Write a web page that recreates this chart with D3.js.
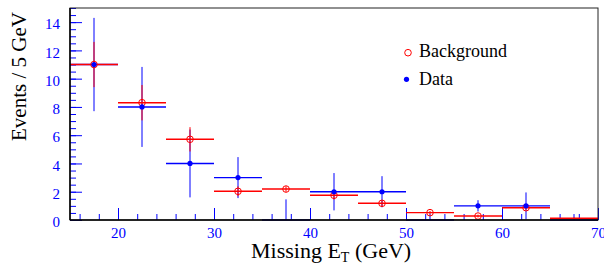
<!DOCTYPE html>
<html>
<head>
<meta charset="utf-8">
<script src="https://cdn.jsdelivr.net/npm/d3@7"></script>
<style>
    body { margin: 0; background: #fff; }
    svg { display: block; font-family: "Liberation Serif", "Times New Roman", serif; }
</style>
</head>
<body>
<svg id="chart"></svg>
<script>
// bins of 5 GeV, centres
var binCenters = [17.5, 22.5, 27.5, 32.5, 37.5, 42.5, 47.5, 52.5, 57.5, 62.5, 67.5];
var binWidth = 5;

// observed data and its errors
var dataCounts = [11, 8, 4, 3, 0, 2, 2, 0, 1, 1, 0];
var dataErrors = [3.3, 2.83, 2.4, 1.45, 1.46, 1.32, 1.1, 0.45, 0.4, 0.95, 0.42];

// expected background and its errors
var bkgValues = [11, 8.3, 5.71, 2.03, 2.19, 1.75, 1.18, 0.52, 0.28, 0.87, 0.12];
var bkgErrors = [1.6, 1.25, 0.86, 0.35, 0.2, 0.3, 0.2, 0.12, 0.1, 0.15, 0.05];

var xMajorTicks = [20, 30, 40, 50, 60, 70];
var yMajorTicks = [0, 2, 4, 6, 8, 10, 12, 14];

var margin = { top: 8, right: 6, bottom: 44, left: 70 },
    width = 604 - margin.left - margin.right,
    height = 264 - margin.top - margin.bottom;

var x = d3.scaleLinear().domain([15, 70]).range([0, width]);
var y = d3.scaleLinear().domain([0, 15]).range([height, 0]);

var svg = d3.select("#chart")
    .attr("width", width + margin.left + margin.right)
    .attr("height", height + margin.top + margin.bottom)
    .append("g")
    .attr("transform", "translate(" + margin.left + "," + margin.top + ")");

var bins = binCenters.map(function (c, i) {
    return { c: c, d: dataCounts[i], de: dataErrors[i], b: bkgValues[i], be: bkgErrors[i] };
});

// axes (ticks point inward, ROOT style)
function styleAxis(g) {
    g.select(".domain").remove();
    g.selectAll(".tick line").attr("stroke", "#0000ff");
    g.selectAll(".tick text")
        .attr("fill", "#0000ff")
        .style("font-size", "15px")
        .style("font-family", "'Liberation Serif', serif");
}

svg.append("g")
    .attr("class", "x minor")
    .attr("transform", "translate(0," + height + ")")
    .call(d3.axisBottom(x).tickValues(x.ticks(28)).tickSize(-6).tickFormat(""))
    .call(styleAxis);

svg.append("g")
    .attr("class", "x axis")
    .attr("transform", "translate(0," + height + ")")
    .call(d3.axisBottom(x).tickValues(xMajorTicks).tickSize(-12).tickPadding(7.5))
    .call(styleAxis);

svg.append("g")
    .attr("class", "y minor")
    .call(d3.axisLeft(y).tickValues(y.ticks(30)).tickSize(-6).tickFormat(""))
    .call(styleAxis);

svg.append("g")
    .attr("class", "y axis")
    .call(d3.axisLeft(y).tickValues(yMajorTicks).tickSize(-12).tickPadding(10))
    .call(styleAxis)
    .selectAll(".tick text").attr("dy", "0.45em");

// error bars
function drawBars(cls, val, err, color) {
    var g = svg.append("g").attr("class", cls).attr("stroke", color);
    g.selectAll(".h").data(bins).enter().append("line")
        .attr("class", "h")
        .attr("stroke-width", 1.4)
        .attr("x1", function (d) { return x(d.c - binWidth / 2); })
        .attr("x2", function (d) { return x(d.c + binWidth / 2); })
        .attr("y1", function (d) { return y(d[val]); })
        .attr("y2", function (d) { return y(d[val]); });
    g.selectAll(".v").data(bins).enter().append("line")
        .attr("class", "v")
        .attr("stroke-width", 1)
        .attr("x1", function (d) { return x(d.c); })
        .attr("x2", function (d) { return x(d.c); })
        .attr("y1", function (d) { return y(Math.max(0, d[val] - d[err])); })
        .attr("y2", function (d) { return y(d[val] + d[err]); });
}

drawBars("data-bars", "d", "de", "#0000ff");
drawBars("bkg-bars", "b", "be", "#ff0000");

svg.append("g").selectAll("circle")
    .data(bins.filter(function (d) { return d.b > 0.2; }))
    .enter().append("circle")
    .attr("cx", function (d) { return x(d.c); })
    .attr("cy", function (d) { return y(d.b); })
    .attr("r", 3.3)
    .attr("fill", "none")
    .attr("stroke", "#ff0000")
    .attr("stroke-width", 1);

svg.append("g").selectAll("circle")
    .data(bins.filter(function (d) { return d.d > 0; }))
    .enter().append("circle")
    .attr("cx", function (d) { return x(d.c); })
    .attr("cy", function (d) { return y(d.d); })
    .attr("r", 2.6)
    .attr("fill", "#0000ff");

// frame
svg.append("rect")
    .attr("width", width)
    .attr("height", height)
    .attr("fill", "none")
    .attr("stroke", "#222")
    .attr("stroke-width", 1);
svg.append("line").attr("x1", 0).attr("x2", 0).attr("y1", 0).attr("y2", height)
    .attr("stroke", "#000").attr("stroke-width", 1.5);
svg.append("line").attr("x1", 0).attr("x2", width).attr("y1", height).attr("y2", height)
    .attr("stroke", "#000").attr("stroke-width", 1.5);

// legend
var legend = svg.append("g").attr("class", "legend");
legend.append("circle").attr("cx", 338).attr("cy", 44.7).attr("r", 3.3)
    .attr("fill", "none").attr("stroke", "#ff0000");
legend.append("text").attr("x", 349).attr("y", 48.7)
    .style("font-size", "18px").text("Background");
legend.append("circle").attr("cx", 336.5).attr("cy", 71.3).attr("r", 2.6)
    .attr("fill", "#0000ff");
legend.append("text").attr("x", 349).attr("y", 77)
    .style("font-size", "18px").text("Data");

// axis titles
svg.append("text")
    .attr("transform", "translate(" + (26 - margin.left) + "," + (76.5 - margin.top) + ") rotate(-90)")
    .style("text-anchor", "middle")
    .style("font-size", "21px")
    .text("Events / 5 GeV");

var xt = svg.append("text")
    .attr("x", 251 - margin.left)
    .attr("y", 258 - margin.top)
    .style("font-size", "22px");
xt.append("tspan").text("Missing E");
xt.append("tspan").attr("dy", 4).style("font-size", "14px").text("T");
xt.append("tspan").attr("dy", -4).text(" (GeV)");
</script>
</body>
</html>
